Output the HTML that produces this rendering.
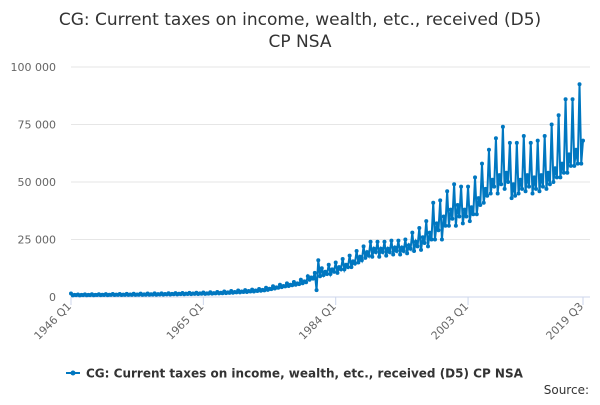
<!DOCTYPE html>
<html><head><meta charset="utf-8"><style>
body{margin:0;background:#fff;font-family:"Liberation Sans","DejaVu Sans",sans-serif;}
svg text{font-family:"DejaVu Sans","Liberation Sans",sans-serif;}
</style></head><body>
<svg id="c" width="600" height="400">
<text x="300" y="25" text-anchor="middle" font-size="17" fill="#333">CG: Current taxes on income, wealth, etc., received (D5)</text>
<text x="300" y="47" text-anchor="middle" font-size="17" fill="#333">CP NSA</text>
<g id="grid"></g><g id="series"></g>
<g>
<line x1="66" y1="373" x2="80" y2="373" stroke="#0077c0" stroke-width="2"/><circle cx="73" cy="373" r="2.5" fill="#0077c0"/>
<text x="86" y="377.5" font-size="12" font-weight="bold" fill="#333">CG: Current taxes on income, wealth, etc., received (D5) CP NSA</text>
</g>
<text x="589" y="394" text-anchor="end" font-size="12" fill="#333">Source:</text>
</svg>
<script>
const yTicks=[0,25000,50000,75000,100000];
const yTickLabels=["0","25 000","50 000","75 000","100 000"];
const xTickIdx=[0,76,152,228,294];
const xTickLabels=["1946 Q1","1965 Q1","1984 Q1","2003 Q1","2019 Q3"];
const values=[
1500,700,900,800,
1100,700,900,800,
1150,750,950,800,
1200,750,950,850,
1200,800,1000,850,
1250,800,1000,900,
1300,850,1050,900,
1300,850,1050,950,
1350,900,1100,950,
1400,900,1100,1000,
1450,950,1150,1000,
1500,1000,1200,1050,
1550,1000,1250,1100,
1600,1050,1300,1150,
1650,1100,1350,1200,
1700,1150,1400,1250,
1750,1200,1450,1300,
1800,1250,1500,1350,
1850,1300,1550,1400,
1950,1350,1600,1450,
2050,1450,1700,1550,
2200,1550,1850,1650,
2400,1700,2000,1800,
2600,1850,2200,2000,
2800,2000,2400,2200,
3000,2200,2600,2400,
3200,2400,2800,2600,
3500,2700,3100,2900,
4000,3100,3600,3400,
4700,3700,4200,4000,
5300,4300,4800,4600,
5900,4800,5300,5100,
6500,5300,5900,5600,
7500,6000,6800,6400,
9000,7500,8500,8000,
10500,3000,16000,9000,
12500,9500,11000,10000,
14000,10000,12000,11000,
15000,10500,13000,12000,
16500,12000,14000,13000,
18000,13000,15500,14500,
20000,15000,17500,16000,
22000,17000,19500,18000,
24000,17500,21000,19500,
24000,17500,21000,19500,
24000,18000,21000,19500,
24500,18500,21500,20000,
24500,18500,21500,20000,
25000,19000,22500,21000,
28000,20000,24000,22000,
30000,20500,26000,23500,
33000,22000,28000,25000,
41000,25000,32000,29000,
42000,25000,35000,31000,
46000,31000,38000,34000,
49000,31000,40000,35000,
48000,32000,38000,35000,
48000,33000,39000,36000,
52000,36000,43000,40000,
58000,41000,47000,44000,
64000,45000,51000,48000,
69000,45000,53000,49000,
74000,47000,54000,50000,
67000,43000,49000,44000,
67000,45000,51000,47000,
70000,46000,53000,48000,
67000,45000,52000,47000,
68000,46000,53000,48000,
70000,47000,54000,49000,
75000,50000,56000,52000,
79000,52000,58000,54000,
86000,54000,62000,57000,
86000,57000,64000,58000,
92500,58000,68000
];
const NS='http://www.w3.org/2000/svg';
const x0=71,x1=583,yBase=297,yTop=67;
function xs(i){return x0+i*(x1-x0)/294;}
function ys(v){return yBase-(v/100000)*(yBase-yTop);}
const grid=document.getElementById('grid'),ser=document.getElementById('series');
yTicks.forEach((t,k)=>{
 const l=document.createElementNS(NS,'line');
 l.setAttribute('x1',x0);l.setAttribute('x2',590);l.setAttribute('y1',ys(t));l.setAttribute('y2',ys(t));
 l.setAttribute('stroke',k===0?'#ccd6eb':'#e6e6e6');l.setAttribute('stroke-width',1);
 
 
 grid.appendChild(l);
 const tx=document.createElementNS(NS,'text');
 tx.setAttribute('x',56);tx.setAttribute('y',ys(t)+4);tx.setAttribute('text-anchor','end');
 tx.setAttribute('font-size','11');tx.setAttribute('fill','#666');tx.textContent=yTickLabels[k];
 
 
 grid.appendChild(tx);
});
xTickIdx.forEach((i,k)=>{
 const x=xs(i);
 const l=document.createElementNS(NS,'line');
 l.setAttribute('x1',x);l.setAttribute('x2',x);l.setAttribute('y1',yBase);l.setAttribute('y2',yBase+8);
 l.setAttribute('stroke','#ccd6eb');
 
 
 grid.appendChild(l);
 const ax=x+1,ay=yBase+10;
 const tx=document.createElementNS(NS,'text');
 tx.setAttribute('x',ax);tx.setAttribute('y',ay);tx.setAttribute('text-anchor','end');
 tx.setAttribute('font-size','11');tx.setAttribute('fill','#666');
 tx.setAttribute('transform','rotate(-45 '+ax+' '+ay+')');
 tx.textContent=xTickLabels[k];
 
 
 grid.appendChild(tx);
});
const p=document.createElementNS(NS,'path');
p.setAttribute('d',values.map((v,i)=>(i?'L':'M')+xs(i).toFixed(2)+' '+ys(v).toFixed(2)).join(''));
p.setAttribute('fill','none');p.setAttribute('stroke','#0077c0');p.setAttribute('stroke-width','2');


ser.appendChild(p);
values.forEach((v,i)=>{
 const c=document.createElementNS(NS,'circle');
 c.setAttribute('cx',xs(i));c.setAttribute('cy',ys(v));c.setAttribute('r','2');c.setAttribute('fill','#0077c0');
 
 
 ser.appendChild(c);
});
</script>
</body></html>
